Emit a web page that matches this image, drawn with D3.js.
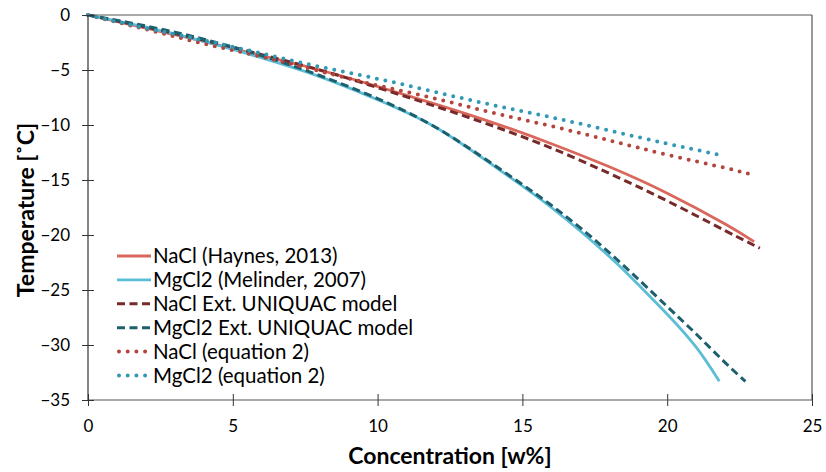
<!DOCTYPE html>
<html>
<head>
<meta charset="utf-8">
<script src="https://d3js.org/d3.v7.min.js"></script>
<style>
  body { margin: 0; background: white; }
  svg text { font-family: Lato, "Open Sans", sans-serif; fill: #000; }
</style>
</head>
<body>
<svg width="826" height="472"></svg>
<script>
// ticks
var xTicks = [0, 5, 10, 15, 20, 25];
var yTicks = [0, -5, -10, -15, -20, -25, -30, -35];

// series: [concentration w%, temperature C]
var naclHaynes = [[0,0],[2,-1.2],[4,-2.4],[6,-3.7],[8,-5.0],[10,-6.5],[12,-8.1],[14,-9.8],[16,-11.7],[18,-13.8],[20,-16.2],[22,-19.0],[23,-20.6]];
var mgcl2Melinder = [[0,0],[2,-1.1],[4,-2.4],[6,-3.9],[8,-5.6],[10,-7.7],[12,-10.2],[14,-13.7],[16,-17.5],[18,-21.95],[19,-24.5],[20,-27.2],[21,-30.2],[21.8,-33.3]];
var naclUniquac = [[0,0],[2,-1.1],[4,-2.3],[6,-3.6],[8,-5.0],[10,-6.6],[12,-8.3],[14,-10.1],[16,-12.1],[18,-14.4],[20,-16.9],[22,-19.6],[23.2,-21.2]];
var mgcl2Uniquac = [[0,0],[2,-1.0],[4,-2.2],[6,-3.7],[8,-5.5],[10,-7.6],[12,-10.2],[14,-13.6],[16,-17.3],[18,-21.6],[20,-26.5],[21,-29.0],[22,-31.6],[22.7,-33.3]];
var naclEq2 = [[0,0],[2,-1.3],[4,-2.6],[6,-3.8],[8,-5.1],[10,-6.4],[12,-7.6],[14,-8.9],[16,-10.1],[18,-11.4],[20,-12.7],[22,-13.9],[22.9,-14.5]];
var mgcl2Eq2 = [[0,0],[2,-1.2],[4,-2.3],[6,-3.5],[8,-4.7],[10,-5.8],[12,-7.0],[14,-8.2],[16,-9.3],[18,-10.5],[20,-11.7],[21.8,-12.7]];

var series = [
  {name: "NaCl (Haynes, 2013)", data: naclHaynes, color: "#d9675c", dash: null},
  {name: "MgCl2 (Melinder, 2007)", data: mgcl2Melinder, color: "#5bbdd6", dash: null},
  {name: "NaCl Ext. UNIQUAC model", data: naclUniquac, color: "#772a2a", dash: "8,4.5"},
  {name: "MgCl2 Ext. UNIQUAC model", data: mgcl2Uniquac, color: "#1e5f6d", dash: "8,4.5"},
  {name: "NaCl (equation 2)", data: naclEq2, color: "#b4453d", dash: "0,8.7"},
  {name: "MgCl2 (equation 2)", data: mgcl2Eq2, color: "#3199b3", dash: "0,8.7"}
];

var svg = d3.select("svg");
var plotL = 88, plotR = 812, plotT = 15, plotB = 400;

var x = d3.scaleLinear().domain([0, 25]).range([plotL, plotR]);
var y = d3.scaleLinear().domain([-35, 0]).range([plotB, plotT]);

// frame top & right
svg.append("line").attr("x1", plotL).attr("x2", plotR).attr("y1", plotT).attr("y2", plotT)
  .attr("stroke", "#555").attr("stroke-width", 1.2);
svg.append("line").attr("x1", plotR).attr("x2", plotR).attr("y1", plotT).attr("y2", plotB)
  .attr("stroke", "#555").attr("stroke-width", 1.2);

var line = d3.line()
  .x(function(d) { return x(d[0]); })
  .y(function(d) { return y(d[1]); })
  .curve(d3.curveNatural);

series.forEach(function(s) {
  var p = svg.append("path")
    .attr("d", line(s.data))
    .attr("fill", "none")
    .attr("stroke", s.color);
  if (s.dash == "0,8.7") {
    p.attr("stroke-width", 4).attr("stroke-linecap", "round").attr("stroke-dasharray", s.dash);
  } else if (s.dash) {
    p.attr("stroke-width", 3).attr("stroke-dasharray", s.dash);
  } else {
    p.attr("stroke-width", 2.8);
  }
});

// axes with crossing ticks
var xAxis = svg.append("g").attr("transform", "translate(0," + plotB + ")")
  .call(d3.axisBottom(x).tickValues(xTicks).tickSize(6).tickFormat(d3.format("d")));
xAxis.selectAll(".tick line").attr("y1", -6).attr("y2", 6).attr("stroke", "#333");
xAxis.select(".domain").attr("stroke", "#555").attr("stroke-width", 1.2).attr("d", "M" + plotL + ",0H" + plotR);
xAxis.selectAll("text").attr("y", 20).style("font-size", "17px");

var yAxis = svg.append("g").attr("transform", "translate(" + plotL + ",0)")
  .call(d3.axisLeft(y).tickValues(yTicks).tickSize(6).tickFormat(d3.format("d")));
yAxis.selectAll(".tick line").attr("x1", -6).attr("x2", 6).attr("stroke", "#333");
yAxis.select(".domain").attr("stroke", "#333").attr("stroke-width", 1.2).attr("d", "M0," + plotT + "V" + plotB);
yAxis.selectAll("text").attr("x", -18).style("font-size", "17px");
svg.selectAll(".tick text").style("font-family", "Lato, sans-serif").attr("fill", "#000");

// axis titles
svg.append("text").attr("x", 450).attr("y", 464).attr("text-anchor", "middle")
  .style("font-size", "23px").style("font-weight", "bold").text("Concentration [w%]");
svg.append("text").attr("transform", "translate(34,210) rotate(-90)").attr("text-anchor", "middle")
  .style("font-size", "23px").style("font-weight", "bold").text("Temperature [˚C]");

// legend
var lg = svg.append("g");
series.forEach(function(s, i) {
  var yy = 256 + i * 23.9;
  var l = lg.append("line").attr("x1", 117).attr("x2", 151).attr("y1", yy).attr("y2", yy)
    .attr("stroke", s.color);
  if (s.dash == "0,8.7") {
    l.attr("x1", 119).attr("stroke-width", 4).attr("stroke-linecap", "round").attr("stroke-dasharray", s.dash);
  } else if (s.dash) {
    l.attr("stroke-width", 3).attr("stroke-dasharray", "8,4.5");
  } else {
    l.attr("stroke-width", 2.8);
  }
  lg.append("text").attr("x", 153).attr("y", yy + 7).style("font-size", "20.5px").text(s.name);
});
</script>
</body>
</html>
